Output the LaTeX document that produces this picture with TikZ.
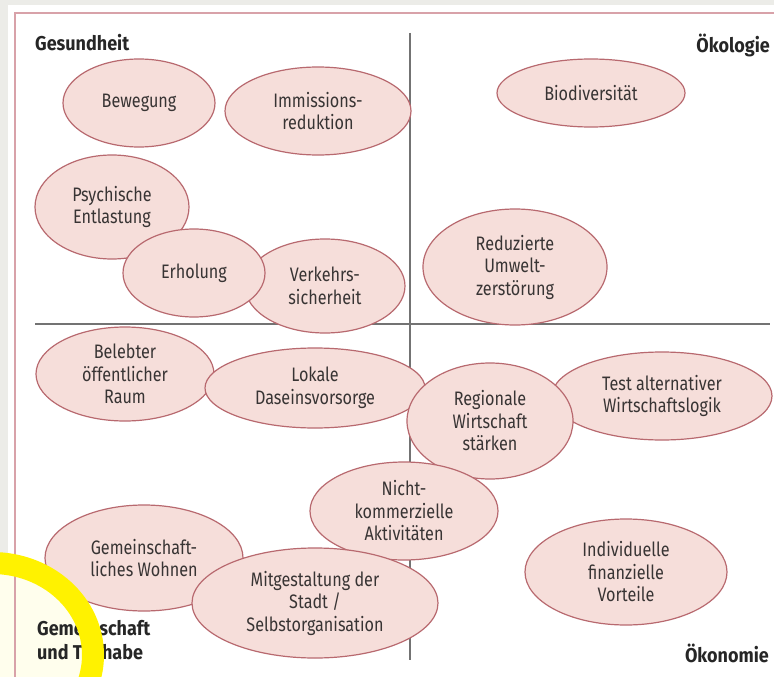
\documentclass[tikz,border=0pt]{standalone}
\usepackage{fontspec}
\setmainfont{Fira Sans}[FakeStretch=0.83]
\newfontfamily\labelfont{Fira Sans}[FakeStretch=0.9]
\usetikzlibrary{shapes.geometric}
\definecolor{bubblefill}{HTML}{F6DEDA}
\definecolor{bubbleline}{HTML}{B8696F}
\definecolor{framecol}{HTML}{D8A2A9}
\definecolor{pagegray}{HTML}{ECECE8}
\definecolor{inkgray}{HTML}{383434}
\definecolor{marker}{HTML}{FFF200}

\begin{document}
\begin{tikzpicture}[x=1pt,y=-1pt,
  bubble/.style={ellipse,draw=bubbleline,fill=bubblefill,line width=1.2pt,inner sep=0pt,
    align=center,text=inkgray,font=\fontsize{19.5}{22.5}\selectfont},
  bsize/.style 2 args={minimum width=#1pt,minimum height=#2pt},
  quad/.style={inner sep=0pt,align=left,text=black!85,font=\labelfont\fontsize{20}{24}\selectfont\bfseries},
  axisline/.style={draw=black!55,line width=1.4pt}]

\useasboundingbox (0,0) rectangle (774,677);
%page and frame
\fill[pagegray] (0,0) rectangle (774,677);
\fill[white] (8,5) rectangle (774,677);
\fill[yellow!7] (-8,655) ellipse [x radius=101,y radius=92];
\draw[framecol,line width=1.4pt] (15,677) -- (15,13) -- (774,13);

%axes
\coordinate (vtop) at (410,33);
\coordinate (vbot) at (410,660);
\coordinate (hleft) at (35,324);
\coordinate (hright) at (770,324);
\draw[axisline] (vtop) -- (vbot);
\draw[axisline] (hleft) -- (hright);

%quadrant labels
\node[quad,anchor=west] (gesundheit) at (35,43) {Gesundheit};
\node[quad,anchor=east] (oekologie) at (770,45) {Ökologie};
\node[quad,anchor=west] (gemeinschaft) at (37,640) {Gemeinschaft\\und Teilhabe};
\node[quad,anchor=east] (oekonomie) at (769,653) {Ökonomie};

%Gesundheit
\node[bubble,bsize={152}{88}] (bewegung) at (139,103) {Bewegung};
\node[bubble,bsize={186}{88}] (immission) at (318,111) {Immissions-\\reduktion};
\node[bubble,bsize={154}{104}] (psyche) at (112,207) {Psychische\\Entlastung};
\node[bubble,bsize={160}{94}] (verkehr) at (325,286) {Verkehrs-\\sicherheit};
\node[bubble,bsize={142}{88}] (erholung) at (194,273) {Erholung};

%Oekologie
\node[bubble,bsize={188}{68}] (bio) at (591,93) {Biodiversität};
\node[bubble,bsize={184}{116}] (umwelt) at (515,267) {Reduzierte\\Umwelt-\\zerstörung};

%Gemeinschaft und Oekonomie
\node[bubble,bsize={178}{94}] (raum) at (125,374) {Belebter\\öffentlicher\\Raum};
\node[bubble,bsize={220}{80}] (daseins) at (315,388) {Lokale\\Daseinsvorsorge};
\node[bubble,bsize={220}{88}] (testlogik) at (662,396) {Test alternativer\\Wirtschaftslogik};
\node[bubble,bsize={166}{116}] (regional) at (490,421) {Regionale\\Wirtschaft\\stärken};
\node[bubble,bsize={188}{98}] (nichtkomm) at (404,511) {Nicht-\\kommerzielle\\Aktivitäten};
\node[bubble,bsize={198}{106}] (wohnen) at (144,558) {Gemeinschaft-\\liches Wohnen};
\node[bubble,bsize={246}{110}] (mitgestalt) at (315,603) {Mitgestaltung der\\Stadt /\\Selbstorganisation};
\node[bubble,bsize={202}{106}] (vorteile) at (626,572) {Individuelle\\finanzielle\\Vorteile};

%marker
\draw[marker,line width=22pt] (-8,655) ellipse [x radius=101,y radius=92];
\end{tikzpicture}
\end{document}
